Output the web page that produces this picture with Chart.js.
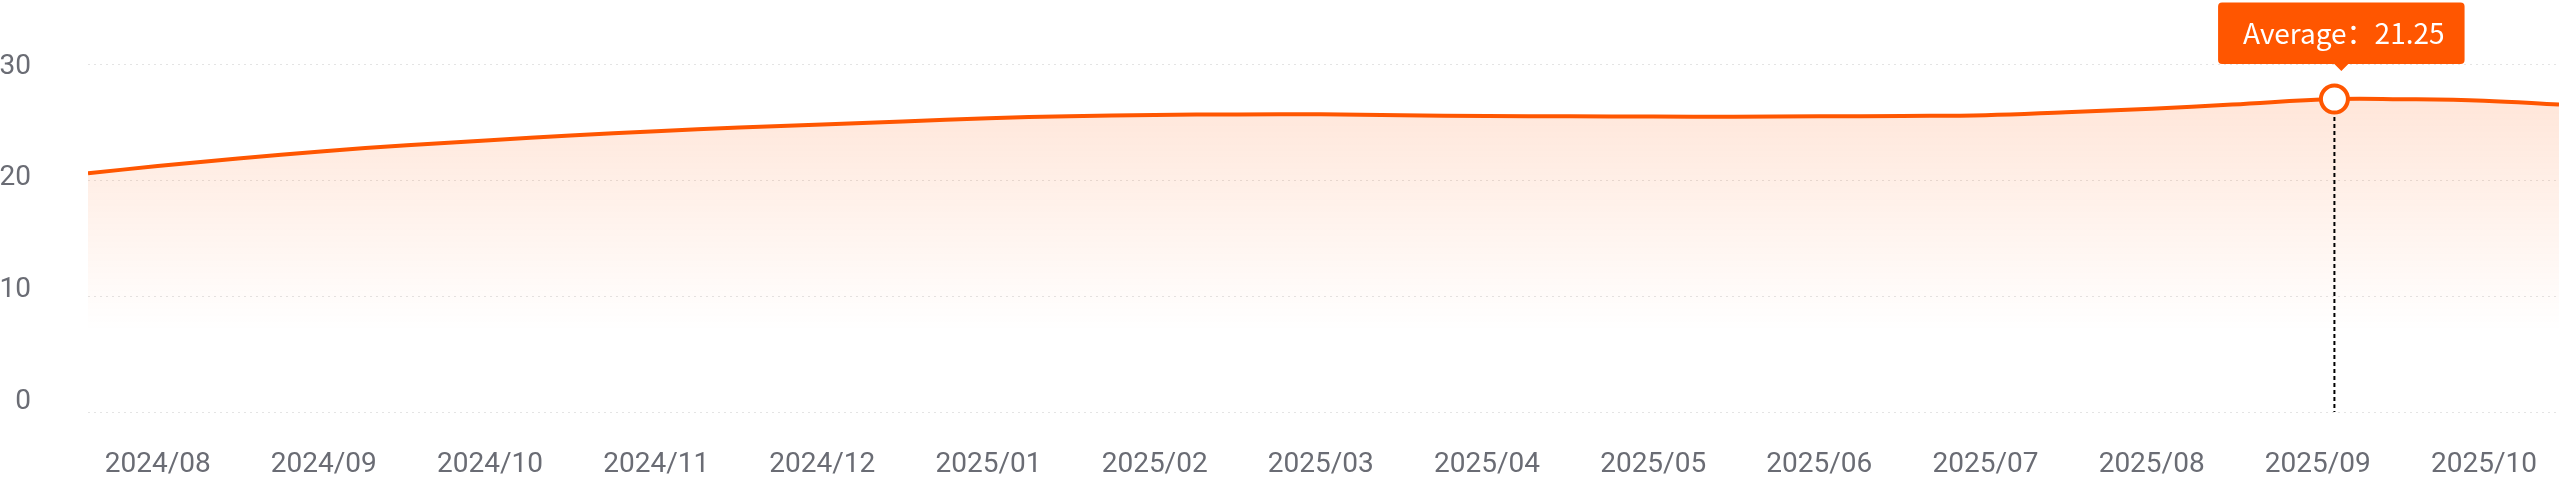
<!DOCTYPE html>
<html><head><meta charset="utf-8">
<script src="https://cdn.jsdelivr.net/npm/chart.js@4.4.1/dist/chart.umd.min.js"></script>
<style>html,body{margin:0;padding:0;background:#fff;overflow:hidden}canvas{display:block}</style>
</head><body>
<canvas id="c" width="2561" height="478"></canvas>
<script>
// ---- data ----
const monthLabels = ['2024/08','2024/09','2024/10','2024/11','2024/12','2025/01','2025/02','2025/03','2025/04','2025/05','2025/06','2025/07','2025/08','2025/09','2025/10'];
const pointDates = ['2024-07-19','2024-08-01','2024-08-16','2024-09-01','2024-09-16','2024-10-01','2024-10-16','2024-11-01','2024-11-16','2024-12-01','2024-12-16','2025-01-01','2025-01-16','2025-02-01','2025-02-15','2025-03-01','2025-03-16','2025-04-01','2025-04-16','2025-05-01','2025-05-16','2025-06-01','2025-06-16','2025-07-01','2025-07-16','2025-08-01','2025-08-16','2025-09-04','2025-09-16','2025-10-01','2025-10-15'];
const averageValues = [20.58,21.20,21.85,22.47,23.00,23.42,23.84,24.21,24.53,24.79,25.05,25.33,25.50,25.61,25.65,25.66,25.58,25.52,25.49,25.47,25.46,25.49,25.52,25.58,25.84,26.15,26.50,26.98,26.97,26.84,26.50];
const yTickValues = [0,10,20,30];
const highlightDate = '2025-09-04';
const tooltipName = 'Average';
const tooltipValue = '21.25';

// ---- helpers ----
const [baseY, baseM] = monthLabels[0].split('/').map(Number);
function monthIndex(s){
  const [y,m,d] = s.split('-').map(Number);
  const dim = new Date(y, m, 0).getDate();
  return (y-baseY)*12 + (m-baseM) + (d-1)/dim;
}
const points = pointDates.map((d,i)=>({x: monthIndex(d), y: averageValues[i]}));
const hi = pointDates.indexOf(highlightDate);

const ORANGE = 'rgb(255,86,0)';
const GRAY = '#6a6c74';

Chart.Tooltip.positioners.shifted = function(elements){
  if(!elements.length) return false;
  const el = elements[0].element;
  return {x: el.x + 6, y: el.y};
};

const noPad = s => { s.paddingTop = 0; s.paddingBottom = 0; s.paddingLeft = 0; s.paddingRight = 0; };

const guidePlugin = {
  id: 'guide',
  afterDatasetsDraw(chart){
    const act = chart.getActiveElements();
    if(!act.length) return;
    const el = act[0].element;
    const ctx = chart.ctx;
    ctx.save();
    ctx.setLineDash([4,3]);
    ctx.strokeStyle = '#000';
    ctx.lineWidth = 2;
    ctx.beginPath();
    ctx.moveTo(el.x, el.y + 18);
    ctx.lineTo(el.x, chart.chartArea.bottom);
    ctx.stroke();
    ctx.restore();
  }
};

const chart = new Chart(document.getElementById('c'), {
  type: 'line',
  data: {
    datasets: [{
      data: points,
      borderColor: ORANGE,
      borderWidth: 4,
      tension: 0.4,
      fill: 'origin',
      backgroundColor: (ctx) => {
        const chart = ctx.chart;
        if(!chart.chartArea) return 'rgba(255,86,0,0.1)';
        const ys = chart.scales.y;
        const g = chart.ctx.createLinearGradient(0, ys.getPixelForValue(27), 0, ys.getPixelForValue(7));
        g.addColorStop(0, 'rgba(255,86,0,0.15)');
        g.addColorStop(1, 'rgba(255,86,0,0)');
        return g;
      },
      pointRadius: 0,
      pointHitRadius: 0,
      pointHoverRadius: 13.5,
      pointHoverBorderWidth: 4,
      pointHoverBackgroundColor: '#fff',
      pointHoverBorderColor: ORANGE
    }]
  },
  options: {
    responsive: false,
    animation: false,
    events: [],
    layout: {padding: {top: 64, right: 1, left: 0, bottom: 0}},
    plugins: {
      legend: {display: false},
      tooltip: {
        enabled: true,
        position: 'shifted',
        yAlign: 'bottom',
        xAlign: 'center',
        backgroundColor: ORANGE,
        displayColors: false,
        caretSize: 7,
        caretPadding: 28,
        cornerRadius: 4,
        padding: {top: 14, bottom: 14, left: 25, right: 20},
        bodyFont: {family: '"Noto Sans CJK SC", "Noto Sans", sans-serif', size: 28},
        bodyColor: '#fff',
        callbacks: {
          title: () => [],
          label: () => tooltipName + '：' + tooltipValue
        }
      }
    },
    scales: {
      x: {
        type: 'linear',
        min: points[0].x,
        max: points[points.length-1].x,
        grid: {display: false, drawTicks: false},
        border: {display: false},
        afterBuildTicks: s => { s.ticks = monthLabels.map((_, i) => ({value: i})); },
        ticks: {
          autoSkip: false, maxRotation: 0, minRotation: 0, padding: 36,
          color: GRAY, font: {family: 'Roboto', size: 28},
          callback: (v) => monthLabels[v]
        },
        afterFit: s => { s.height = 66; noPad(s); }
      },
      y: {
        position: 'left', weight: 0,
        min: 0, max: 30,
        afterBuildTicks: s => { s.ticks = yTickValues.map(v => ({value: v})); },
        ticks: {display: false},
        grid: {color: '#e4e4e4', lineWidth: 1, drawTicks: false},
        border: {display: false, dash: [2, 4]},
        afterFit: s => { s.width = 0; noPad(s); }
      },
      yl: {
        type: 'linear', position: 'left', weight: 1,
        min: -0.894, max: 30.224,
        afterBuildTicks: s => { s.ticks = yTickValues.map(v => ({value: v})); },
        grid: {display: false, drawTicks: false},
        border: {display: false},
        ticks: {padding: 57, color: GRAY, font: {family: 'Roboto', size: 28}},
        afterFit: s => { s.width = 88; noPad(s); }
      }
    }
  },
  plugins: [guidePlugin]
});

const el = chart.getDatasetMeta(0).data[hi];
chart.setActiveElements([{datasetIndex: 0, index: hi}]);
chart.tooltip.setActiveElements([{datasetIndex: 0, index: hi}], {x: el.x, y: el.y});
chart.update();
</script>
</body></html>
